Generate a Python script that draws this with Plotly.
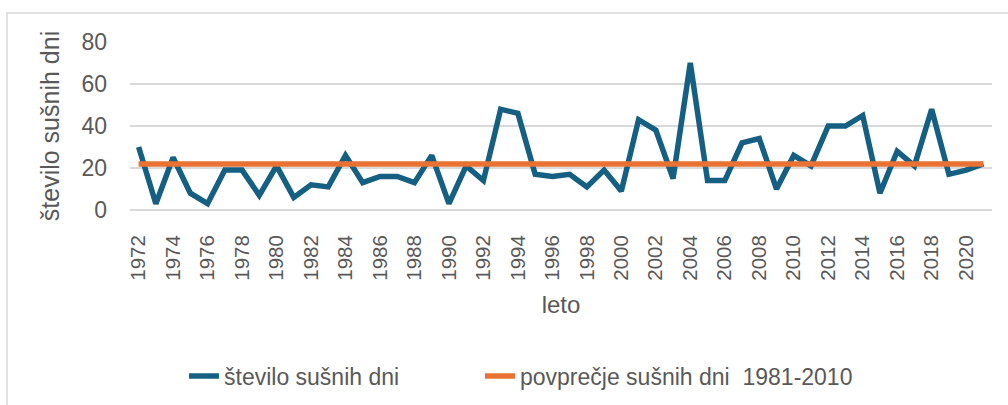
import plotly.graph_objects as go

years = list(range(1972, 2022))
drought_days = [30, 3, 25, 8, 3, 19, 19, 7, 21, 6,
                12, 11, 26, 13, 16, 16, 13, 26, 3, 21,
                14, 48, 46, 17, 16, 17, 11, 19, 9, 43,
                38, 15, 70, 14, 14, 32, 34, 10, 26, 21,
                40, 40, 45, 8, 28, 21, 48, 17, 19, 22]
average_value = 21.9
average_series = [average_value for _ in years]
tick_years = years[::2]
tick_labels = [str(y) for y in tick_years]
y_ticks = [0, 20, 40, 60, 80]

name_series = "število sušnih dni"
name_avg = "povprečje sušnih dni  1981-2010"
y_title = "število sušnih dni"
x_title = "leto"

BLUE = "#156082"
ORANGE = "#E97132"
GRAY_TXT = "#595959"
GRID = "#d9d9d9"
FONT = "Liberation Sans, Arial, sans-serif"

W, H = 1008, 405
ML, MR, MT, MB = 130, 16, 42, 195
pw = W - ML - MR
ph = H - MT - MB

fig = go.Figure()
fig.add_trace(go.Scatter(x=years, y=drought_days, mode="lines", name=name_series,
                         line=dict(color=BLUE, width=5.5, shape="linear"),
                         hoverinfo="x+y", legend="legend"))
fig.add_trace(go.Scatter(x=years, y=average_series, mode="lines", name=name_avg,
                         line=dict(color=ORANGE, width=5.5), legend="legend2"))

def px_to_paper_x(px):
    return (px - ML) / pw

def px_to_paper_y(py):
    return (H - MB - py) / ph

# chart-area border (left and top visible)
fig.add_shape(type="rect", xref="paper", yref="paper",
              x0=px_to_paper_x(7), x1=px_to_paper_x(W + 20),
              y0=px_to_paper_y(H + 20), y1=px_to_paper_y(13),
              line=dict(color=GRID, width=1.5), fillcolor="rgba(0,0,0,0)", layer="below")

legend_style = dict(orientation="h", xanchor="left", yanchor="middle",
                    font=dict(size=23, color=GRAY_TXT, family=FONT),
                    bgcolor="rgba(0,0,0,0)", itemwidth=30)

fig.update_layout(
    width=W, height=H,
    margin=dict(l=ML, r=MR, t=MT, b=MB, pad=0, autoexpand=False),
    paper_bgcolor="white", plot_bgcolor="white",
    font=dict(family=FONT, color=GRAY_TXT),
    showlegend=True,
    legend=dict(x=px_to_paper_x(184), y=px_to_paper_y(376), **legend_style),
    legend2=dict(x=px_to_paper_x(480), y=px_to_paper_y(376), **legend_style),
    xaxis=dict(range=[1971.5, 2021.5], tickmode="array", tickvals=tick_years,
               ticktext=tick_labels, tickangle=-90, showgrid=False, zeroline=False,
               showline=False, ticks="", tickfont=dict(size=20.5, color=GRAY_TXT),
               ticklabelstandoff=20, automargin=False,
               title=dict(text=x_title, font=dict(size=24, color=GRAY_TXT), standoff=16)),
    yaxis=dict(range=[0, 80], tickmode="array", tickvals=y_ticks, showgrid=True,
               gridcolor=GRID, gridwidth=1.5, zeroline=True, zerolinecolor=GRID,
               zerolinewidth=1.5, showline=False, ticks="", automargin=False,
               tickfont=dict(size=23, color=GRAY_TXT), ticklabelstandoff=22,
               title=dict(text=y_title, font=dict(size=25, color=GRAY_TXT), standoff=14)),
)

fig.write_html("out.html", config={"displayModeBar": False},
               post_script="document.body.style.margin='0';document.body.style.padding='0';")
